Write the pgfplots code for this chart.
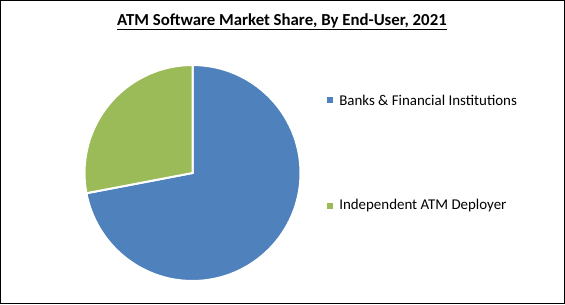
\documentclass[border=0pt]{standalone}
\usepackage{pgfplots}
\usepackage{pgfplotstable}
\pgfplotsset{compat=1.18}
\usepackage{fontspec}
\setmainfont{Carlito}
\definecolor{sliceblue}{HTML}{4F81BD}
\definecolor{slicegreen}{HTML}{9BBB59}
\pgfplotstableread{
share
72.0
28.0
}\sharetable
\begin{document}
\begin{tikzpicture}[x=0.75pt,y=0.75pt]
\pgfplotstablegetelem{0}{share}\of\sharetable
\pgfmathsetmacro{\shareA}{\pgfplotsretval}
\pgfplotstablegetelem{1}{share}\of\sharetable
\pgfmathsetmacro{\shareB}{\pgfplotsretval}
\pgfmathsetmacro{\angA}{90-3.6*\shareA}
\draw[black, line width=0.75pt] (0.5,0.5) rectangle (564.5,303.5);
\coordinate (piecenter) at (192.5,131);
\begin{axis}[
  at={(piecenter)}, anchor=origin,
  width=162pt, height=162pt, scale only axis,
  xmin=-1, xmax=1, ymin=-1, ymax=1,
  hide axis, clip=false,
]
\fill[sliceblue, draw=white, line width=1.5pt] (axis cs:0,0) -- (axis cs:0,1) arc[start angle=90, end angle=\angA, radius=81pt] -- cycle;
\fill[slicegreen, draw=white, line width=1.5pt] (axis cs:0,0) -- (axis cs:0,1) arc[start angle=90, end angle=\angA+360, radius=81pt] -- cycle;
\end{axis}
\node[font=\fontsize{12.6}{14}\selectfont\bfseries] at (282,282) {\underline{ATM Software Market Share, By End-User, 2021}};
\fill[sliceblue] (327,201) rectangle (333,207);
\node[anchor=west, font=\fontsize{11.2}{13}\selectfont, inner sep=0pt] at (339,204) {Banks \& Financial Institutions};
\fill[slicegreen] (327,95) rectangle (333,101);
\node[anchor=west, font=\fontsize{11.2}{13}\selectfont, inner sep=0pt] at (339,98) {Independent ATM Deployer};
\end{tikzpicture}
\end{document}
